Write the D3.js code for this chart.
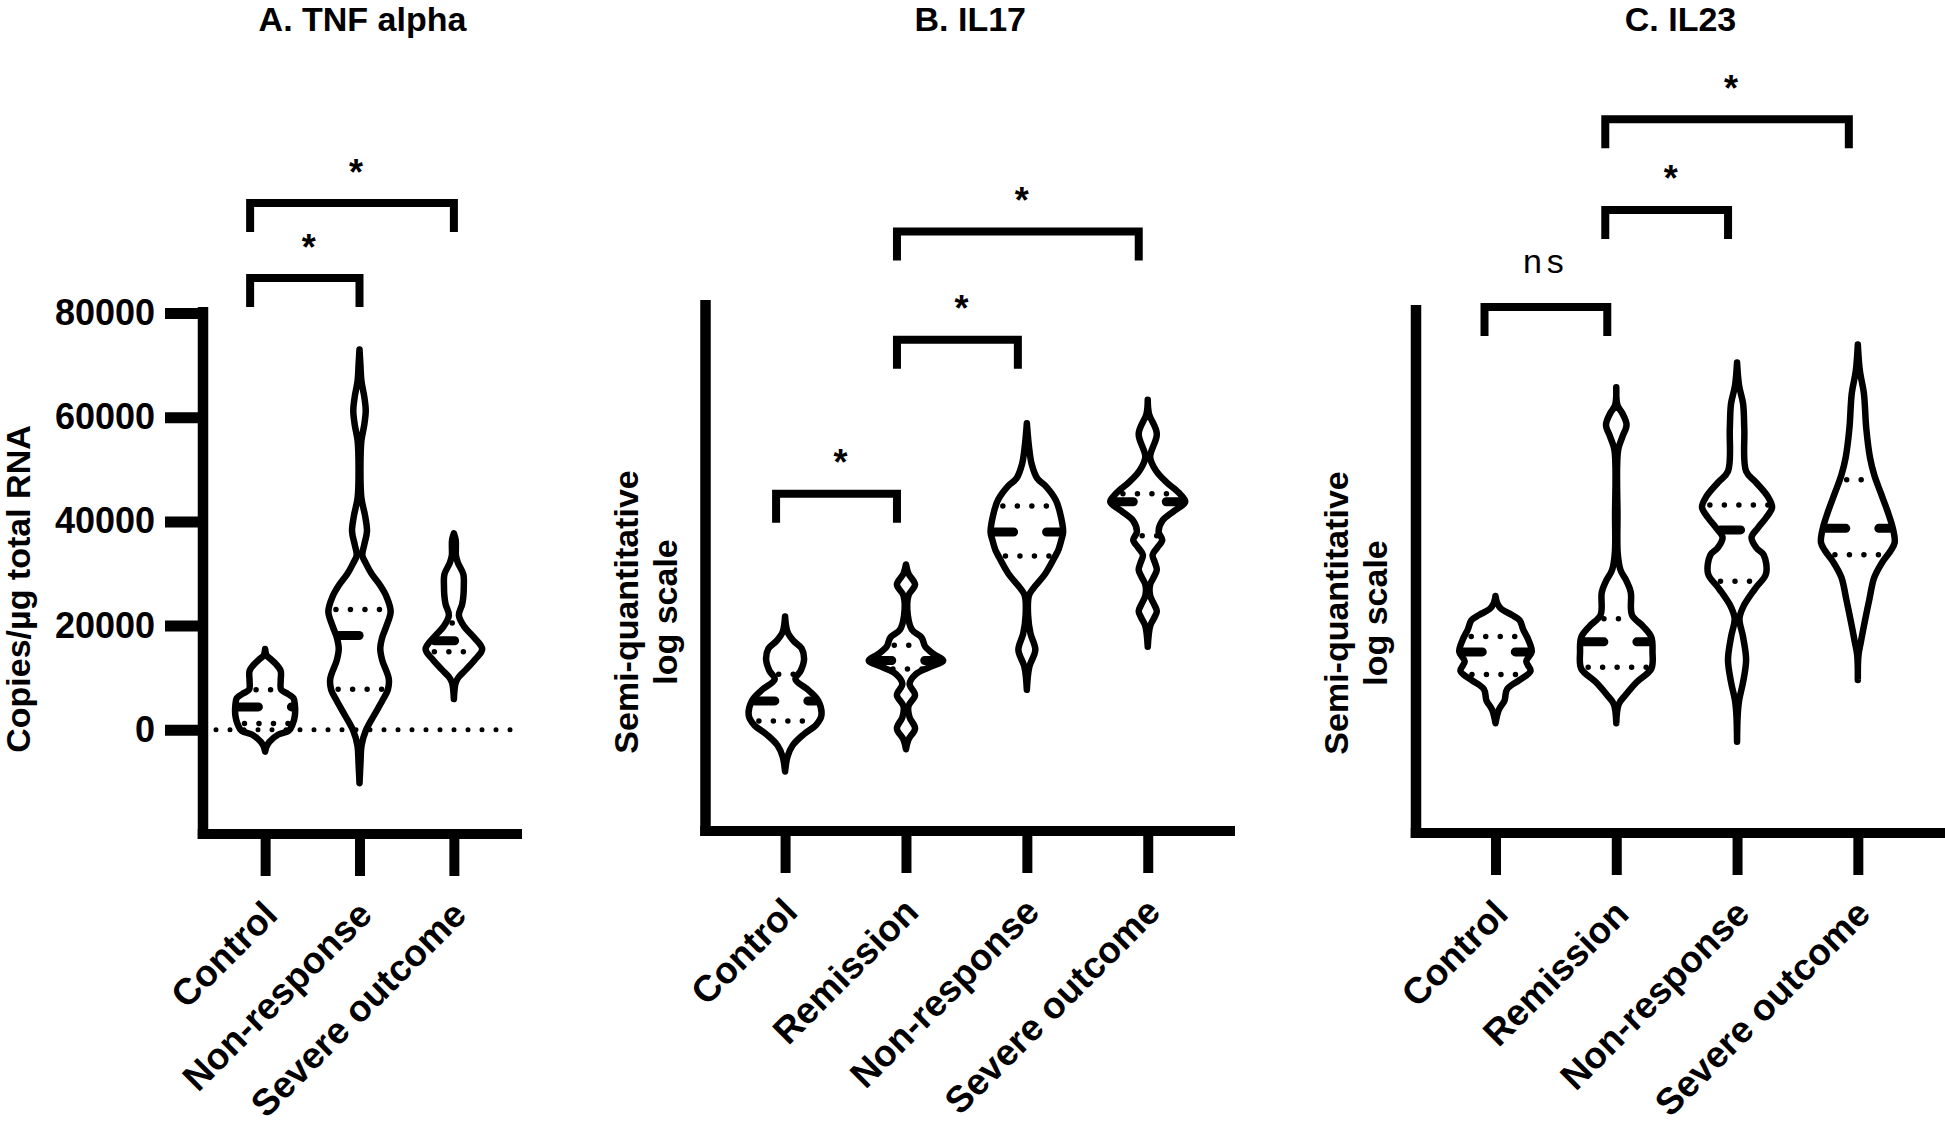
<!DOCTYPE html>
<html>
<head>
<meta charset="utf-8">
<script src="https://cdn.jsdelivr.net/npm/d3@7"></script>
<style>
  body { margin: 0; background: #fff; }
  svg { display: block; }
  text { font-family: "Liberation Sans", Arial, Helvetica, sans-serif; fill: #000; }
</style>
</head>
<body>
<div id="chart"></div>
<script>
// ---- data ----
const tnfGroups = ["Control", "Non-response", "Severe outcome"];
const ilGroups = ["Control", "Remission", "Non-response", "Severe outcome"];
const tnfTicks = [0, 20000, 40000, 60000, 80000];

// violin outlines: [value, half width as share of the category step]
const tnfControl = [[15500,0],[14300,0.015],[13700,0.05],[12700,0.11],[11300,0.165],[9500,0.165],[7700,0.17],[6900,0.24],[6100,0.30],[4800,0.315],[2700,0.315],[1000,0.29],[-200,0.25],[-900,0.14],[-2300,0.045],[-3200,0.015],[-4200,0]];
const tnfNonResp = [[73000,0],[70000,0.01],[67000,0.02],[64000,0.05],[61300,0.066],[58500,0.05],[55500,0.02],[50000,0.01],[44500,0.02],[41000,0.06],[38100,0.079],[35500,0.05],[33500,0.03],[32000,0.066],[29900,0.13],[27700,0.22],[25600,0.285],[22700,0.33],[19900,0.285],[17700,0.24],[15550,0.22],[13400,0.24],[9800,0.31],[7670,0.30],[5520,0.24],[2650,0.15],[-200,0.066],[-3000,0.022],[-6500,0.01],[-10250,0]];
const tnfSevere = [[37700,0],[36300,0.02],[33400,0.022],[32000,0.044],[29850,0.1],[27500,0.105],[25550,0.1],[24100,0.088],[22000,0.053],[19800,0.11],[18000,0.2],[15500,0.30],[13400,0.22],[11600,0.13],[10150,0.053],[9100,0.02],[5900,0]];
const tnfMedian = [4400, 18100, 17100];
const tnfQ1 = [1200, 7800, 15000];
const tnfQ3 = [7700, 23100, 20500];

const il17Control = [[40.4,0],[37.5,0.02],[35.8,0.07],[34.4,0.137],[32.3,0.157],[30.2,0.13],[28.6,0.086],[26.6,0.19],[24.5,0.275],[21.7,0.30],[20.0,0.257],[18.2,0.154],[16.1,0.062],[14.0,0.02],[11.2,0]];
const il17Remission = [[50.2,0],[48.5,0.02],[46.4,0.075],[44.3,0.02],[40.7,0.015],[37.9,0.05],[36.4,0.13],[34.7,0.16],[33.3,0.23],[32.1,0.308],[30.9,0.2],[29.5,0.08],[27.7,0.03],[25.6,0.075],[23.5,0.02],[21.4,0.03],[19.3,0.075],[17.2,0.02],[15.4,0]];
const il17NonResp = [[76.8,0],[72.5,0.017],[69.1,0.04],[66.4,0.086],[65.0,0.154],[62.3,0.24],[60.3,0.27],[56.3,0.30],[54.8,0.285],[52.9,0.26],[52.0,0.24],[48.5,0.154],[45.6,0.05],[44.3,0.017],[40.7,0.01],[37.2,0.03],[34.1,0.07],[30.9,0.02],[26.6,0]];
const il17Severe = [[81.2,0],[78.6,0.01],[74.8,0.075],[70.4,0.02],[67.8,0.07],[65.7,0.154],[63.7,0.257],[62.0,0.31],[60.3,0.22],[58.4,0.12],[56.3,0.09],[54.8,0.12],[53.4,0.08],[52.0,0.04],[50.5,0.06],[49.2,0.075],[47.8,0.05],[46.4,0.02],[44.3,0.02],[42.8,0.05],[41.4,0.075],[40.0,0.05],[38.6,0.02],[34.7,0]];
const il17Median = [24.5, 32.1, 56.3, 62.0];
const il17Q1 = [20.7, 30.5, 51.8, 55.6];
const il17Q3 = [29.5, 35.0, 61.2, 63.5];

const il23Control = [[44.9,0],[43.5,0.015],[42.4,0.05],[41.3,0.136],[40.3,0.2],[38.5,0.23],[36.7,0.27],[34.3,0.30],[32.5,0.255],[30.7,0.29],[29.0,0.2],[27.2,0.095],[25.1,0.075],[23.3,0.027],[20.8,0]];
const il23Remission = [[84.4,0],[81.0,0.01],[79.5,0.05],[77.3,0.085],[75.0,0.05],[72.5,0.015],[60,0.01],[53,0.012],[49.8,0.035],[47.7,0.085],[45.6,0.12],[41.3,0.13],[39.2,0.22],[37.1,0.29],[34.3,0.30],[31.1,0.29],[28.6,0.17],[26.1,0.075],[24.4,0.02],[20.8,0]];
const il23NonResp = [[89.1,0],[84.7,0.017],[81.3,0.05],[76.6,0.06],[68.5,0.075],[66.5,0.153],[63.7,0.255],[61.7,0.29],[59.7,0.24],[57.7,0.17],[56.0,0.12],[54.0,0.16],[52.7,0.22],[49.1,0.24],[46.3,0.15],[42.8,0.05],[40.6,0.02],[37.1,0.05],[32.8,0.075],[28.6,0.05],[25.1,0.017],[22.2,0.005],[17.3,0]];
const il23Severe = [[92.5,0],[87.5,0.017],[83.3,0.05],[76.6,0.07],[71.2,0.1],[67.8,0.136],[64.4,0.19],[61.0,0.245],[57.7,0.29],[55.0,0.305],[53.4,0.27],[51.2,0.2],[48.4,0.136],[44.2,0.095],[39.2,0.05],[36.4,0.027],[33.6,0.005],[29,0]];
const il23Median = [34.3, 36.2, 57.4, 57.7];
const il23Q1 = [30.0, 31.4, 47.7, 52.7];
const il23Q3 = [37.2, 40.6, 62.1, 66.9];

// significance brackets: [from, to, level (data units), label]
const tnfBrackets = [["Control", "Non-response", 86700, "*"], ["Control", "Severe outcome", 101100, "*"]];
const il17Brackets = [["Control", "Remission", 63.5, "*"], ["Remission", "Non-response", 92.5, "*"], ["Remission", "Severe outcome", 112.9, "*"]];
const il23Brackets = [["Control", "Remission", 99.6, "ns"], ["Remission", "Non-response", 118, "*"], ["Remission", "Severe outcome", 135.2, "*"]];

// ---- layout ----
const panels = [
  {
    title: "A. TNF alpha", groups: tnfGroups,
    violins: [tnfControl, tnfNonResp, tnfSevere],
    median: tnfMedian, q1: tnfQ1, q3: tnfQ3, brackets: tnfBrackets,
    ticks: tnfTicks, yLabel: ["Copies/µg total RNA"],
    left: 203, right: 522, axisTop: 307, yDomain: [-20000, 80000], yRange: [834, 313],
    labelX: [-173], labelY: 589, legL: -15, legR: 0, zeroLine: true
  },
  {
    title: "B. IL17", groups: ilGroups,
    violins: [il17Control, il17Remission, il17NonResp, il17Severe],
    median: il17Median, q1: il17Q1, q3: il17Q3, brackets: il17Brackets,
    ticks: null, yLabel: ["Semi-quantitative", "log scale"],
    left: 705.5, right: 1235, axisTop: 300, yDomain: [0, 100], yRange: [831, 300],
    labelX: [-68, -29], labelY: 612, legL: -9, legR: -9, zeroLine: false
  },
  {
    title: "C. IL23", groups: ilGroups,
    violins: [il23Control, il23Remission, il23NonResp, il23Severe],
    median: il23Median, q1: il23Q1, q3: il23Q3, brackets: il23Brackets,
    ticks: null, yLabel: ["Semi-quantitative", "log scale"],
    left: 1416, right: 1945, axisTop: 305, yDomain: [0, 100], yRange: [833, 305],
    labelX: [-68, -29], labelY: 613, legL: -11, legR: -9, zeroLine: false
  }
];

const svg = d3.select("#chart").append("svg")
  .attr("width", 1945)
  .attr("height", 1126);

panels.forEach(drawPanel);

function drawPanel(p) {
  const g = svg.append("g");
  const x = d3.scalePoint().domain(p.groups).range([p.left, p.right]).padding(0.69).align(0.477);
  const y = d3.scaleLinear().domain(p.yDomain).range(p.yRange);
  const step = x.step();
  const w = d3.scaleLinear().domain([0, 1]).range([0, step]);
  const axisY = p.yRange[0];

  // dotted line at zero
  if (p.zeroLine) {
    g.append("line")
      .attr("x1", p.left + 13).attr("x2", p.right - 10)
      .attr("y1", y(0)).attr("y2", y(0))
      .attr("stroke", "#000").attr("stroke-width", 5)
      .attr("stroke-linecap", "round").attr("stroke-dasharray", "0,14");
  }

  p.violins.forEach((prof, i) => {
    const cx = x(p.groups[i]);
    const area = d3.area()
      .y(d => y(d[0]))
      .x0(d => cx - w(d[1]))
      .x1(d => cx + w(d[1]))
      .curve(d3.curveCatmullRom);

    g.append("path")
      .attr("d", area(prof))
      .attr("fill", "none")
      .attr("stroke", "#000")
      .attr("stroke-width", 6.5)
      .attr("stroke-linejoin", "round");

    // half width at any value, for the median and quartile lines
    const half = d3.scaleLinear().domain(prof.map(d => d[0])).range(prof.map(d => d[1]));

    [p.q1[i], p.q3[i]].forEach(v => {
      const hw = w(half(v));
      g.append("line")
        .attr("x1", cx - hw + 7).attr("x2", cx + hw - 3)
        .attr("y1", y(v)).attr("y2", y(v))
        .attr("stroke", "#000").attr("stroke-width", 5.5)
        .attr("stroke-linecap", "round").attr("stroke-dasharray", "0,14.5");
    });

    const mh = w(half(p.median[i]));
    g.append("line")
      .attr("x1", cx - mh + 3).attr("x2", cx + mh - 3)
      .attr("y1", y(p.median[i])).attr("y2", y(p.median[i]))
      .attr("stroke", "#000").attr("stroke-width", 9)
      .attr("stroke-linecap", "round").attr("stroke-dasharray", "20,33");
  });

  // axis lines
  g.append("line")
    .attr("x1", p.left).attr("x2", p.left)
    .attr("y1", p.axisTop).attr("y2", axisY + 5)
    .attr("stroke", "#000").attr("stroke-width", 10.5);
  g.append("line")
    .attr("x1", p.left - 5.25).attr("x2", p.right)
    .attr("y1", axisY).attr("y2", axisY)
    .attr("stroke", "#000").attr("stroke-width", 10);

  if (p.ticks) {
    g.append("g")
      .attr("transform", `translate(${p.left},0)`)
      .call(d3.axisLeft(y).tickValues(p.ticks).tickSize(38).tickPadding(10).tickFormat(d3.format("d")))
      .call(a => a.select(".domain").remove())
      .call(a => a.selectAll(".tick line").attr("stroke-width", 11))
      .call(a => a.selectAll(".tick text")
        .style("font-size", "36px").style("font-weight", "bold"));
  }

  g.append("g")
    .attr("transform", `translate(0,${axisY})`)
    .call(d3.axisBottom(x).tickSize(42).tickPadding(0))
    .call(a => a.select(".domain").remove())
    .call(a => a.selectAll(".tick line").attr("stroke-width", 10))
    .call(a => a.selectAll(".tick text")
      .attr("x", 0).attr("y", 0).attr("dy", 0)
      .attr("text-anchor", "end")
      .attr("transform", "translate(14,83) rotate(-45)")
      .style("font-size", "37px").style("font-weight", "bold"));

  // y axis title
  p.yLabel.forEach((t, k) => {
    g.append("text")
      .attr("transform", `translate(${p.left + p.labelX[k]},${p.labelY}) rotate(-90)`)
      .attr("text-anchor", "middle")
      .style("font-size", "34px").style("font-weight", "bold")
      .text(t);
  });

  // panel title
  g.append("text")
    .attr("x", (p.left + p.right) / 2).attr("y", 31)
    .attr("text-anchor", "middle")
    .style("font-size", "34px").style("font-weight", "bold")
    .text(p.title);

  // brackets
  p.brackets.forEach(([a, b, lvl, lab]) => {
    const xl = x(a) + p.legL, xr = x(b) + p.legR, yb = y(lvl);
    g.append("path")
      .attr("d", `M${xl},${yb + 29}V${yb}H${xr}V${yb + 29}`)
      .attr("fill", "none").attr("stroke", "#000").attr("stroke-width", 8);
    const t = g.append("text")
      .attr("text-anchor", "middle")
      .attr("x", (xl + xr) / 2 + (lab === "*" ? 4 : 0))
      .attr("y", lab === "*" ? yb - 18.5 : yb - 34)
      .text(lab);
    if (lab === "*") t.style("font-size", "36px").style("font-weight", "bold");
    else t.style("font-size", "34px").style("letter-spacing", "5px");
  });
}
</script>
</body>
</html>
